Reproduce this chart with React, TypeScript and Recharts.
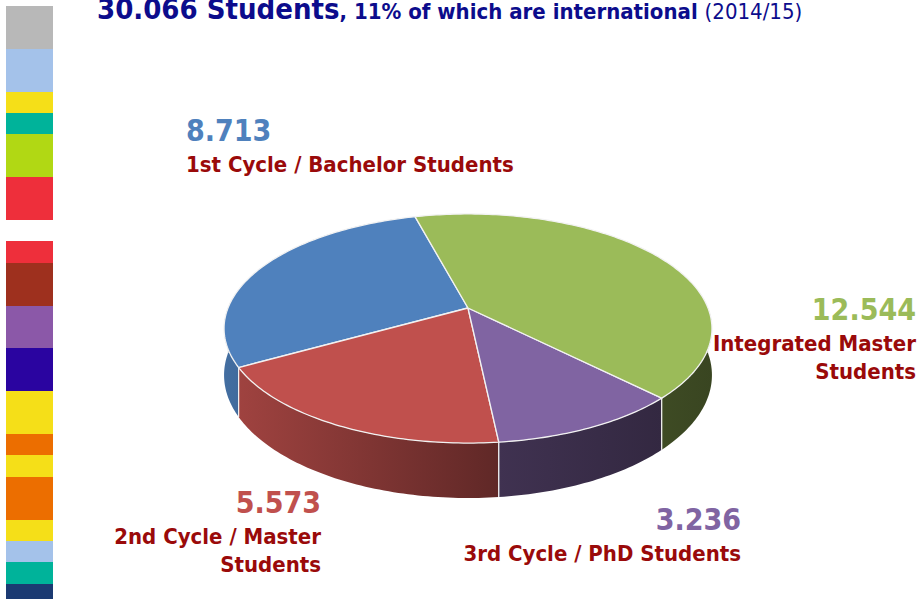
import React from 'react';
import { PieChart, Pie } from 'recharts';

// student numbers 2014/15, in the order the slices run counter-clockwise from the top
const categories = ['1st Cycle / Bachelor\u00a0Students', '2nd Cycle / Master\nStudents', '3rd Cycle / PhD Students', 'Integrated Master\nStudents'];
const students = [8713, 5573, 3236, 12544];
const sliceColors = ['#4F81BD', '#C0504D', '#8064A2', '#9BBB59'];
const internationalShare = '11%';
const yearLabel = '(2014/15)';

// decorative colour band on the left edge: [colour, height in units]
const bandColors = ['#B8B8B8', '#A4C2EA', '#F5DF18', '#00B39A', '#B1D814', '#EE2F3B', '#FFFFFF', '#EE2F3B', '#9E301E', '#8B58A8', '#2A04A0', '#F5DF18', '#EC6E00', '#F5DF18', '#EC6E00', '#F5DF18', '#A4C2EA', '#00B39A', '#1B3A72'];
const bandUnits = [2, 2, 1, 1, 2, 2, 1, 1, 2, 2, 2, 2, 1, 1, 2, 1, 1, 1, 1];

const FONT = '"DejaVu Sans Condensed", "DejaVu Sans", sans-serif';
const TILT = 0.179; // perspective: far side shrinks
const FLAT = 0.462; // vertical squash of the disc
const DEPTH = 0.188; // wall height relative to radius

const fmt = (n: number) => String(n).replace(/\B(?=(\d{3})+(?!\d))/g, '.');

const rows = categories.map((name, i) => ({ name, value: students[i], fill: sliceColors[i] }));
const total = students.reduce((a, b) => a + b, 0);

const project = (cx: number, cy: number, r: number, deg: number, drop = 0) => {
  const a = (deg * Math.PI) / 180;
  const u = Math.cos(a);
  const v = Math.sin(a);
  const w = 1 + TILT * v;
  return [cx + (r * u) / w, cy - (r * FLAT * v) / w + (r * DEPTH * drop) / w];
};

const arcPoints = (cx: number, cy: number, r: number, a0: number, a1: number, drop = 0) => {
  const pts: number[][] = [];
  const n = Math.max(2, Math.ceil(Math.abs(a1 - a0)));
  for (let i = 0; i <= n; i++) pts.push(project(cx, cy, r, a0 + ((a1 - a0) * i) / n, drop));
  return pts;
};

const shade = (hex: string, f: number) => {
  const c = [1, 3, 5].map((i) => Math.round(parseInt(hex.slice(i, i + 2), 16) * f));
  return `rgb(${c.join(',')})`;
};

const TopFace = (props: any) => {
  const { cx, cy, outerRadius, startAngle, endAngle } = props;
  const fill = props.fill || props.payload?.fill;
  const pts = arcPoints(cx, cy, outerRadius, startAngle, endAngle);
  const d = `M${cx},${cy} ` + pts.map((p) => `L${p[0].toFixed(2)},${p[1].toFixed(2)}`).join(' ') + ' Z';
  return <path d={d} fill={fill} stroke="#F2F2F2" strokeWidth={1.3} strokeLinejoin="round" />;
};

const SideWall = (props: any) => {
  const { cx, cy, outerRadius, startAngle, endAngle, index } = props;
  const fill = props.fill || props.payload?.fill;
  const lo = Math.min(startAngle, endAngle);
  const hi = Math.max(startAngle, endAngle);
  const parts: number[][] = [];
  for (let k = -1; k <= 1; k++) {
    const a = Math.max(lo, 180 + 360 * k);
    const b = Math.min(hi, 360 + 360 * k);
    if (b > a) parts.push([a, b]);
  }
  const id = `wall-${index}`;
  const x1 = cx - outerRadius * 1.02;
  const x2 = cx + outerRadius * 1.02;
  return (
    <g>
      <defs>
        <linearGradient id={id} gradientUnits="userSpaceOnUse" x1={x1} x2={x2} y1={0} y2={0}>
          <stop offset="0" stopColor={shade(fill, 0.85)} />
          <stop offset="0.56" stopColor={shade(fill, 0.5)} />
          <stop offset="1" stopColor={shade(fill, 0.37)} />
        </linearGradient>
      </defs>
      {parts.map(([a, b], i) => {
        const top = arcPoints(cx, cy, outerRadius, a, b);
        const bottom = arcPoints(cx, cy, outerRadius, b, a, 1);
        const d = 'M' + top.concat(bottom).map((p) => `${p[0].toFixed(2)},${p[1].toFixed(2)}`).join(' L') + ' Z';
        const e0 = top[0];
        const e1 = top[top.length - 1];
        const f0 = bottom[bottom.length - 1];
        const f1 = bottom[0];
        return (
          <g key={i}>
            <path d={d} fill={`url(#${id})`} stroke="none" />
            <line x1={e0[0]} y1={e0[1]} x2={f0[0]} y2={f0[1]} stroke="#F2F2F2" strokeWidth={1.2} />
            <line x1={e1[0]} y1={e1[1]} x2={f1[0]} y2={f1[1]} stroke="#F2F2F2" strokeWidth={1.2} />
          </g>
        );
      })}
    </g>
  );
};

const labelPos = [
  { x: 186, y: 141, anchor: 'start' },
  { x: 321, y: 513, anchor: 'end' },
  { x: 741, y: 530, anchor: 'end' },
  { x: 916, y: 320, anchor: 'end' },
];

const App: React.FC = () => {
  let acc = 0;
  return (
    <div style={{ position: 'absolute', left: 0, top: 0, width: 924, height: 599, background: '#FFFFFF', overflow: 'hidden' }}>
      {bandColors.map((c, i) => {
        const top = 6 + acc * 21.4;
        acc += bandUnits[i];
        return <div key={i} style={{ position: 'absolute', left: 6, top, width: 47, height: bandUnits[i] * 21.4 + 0.5, background: c }} />;
      })}
      <PieChart width={924} height={599} margin={{ top: 0, right: 0, bottom: 0, left: 0 }} style={{ position: 'absolute', left: 0, top: 0 }}>
        <Pie
          data={rows}
          dataKey="value"
          nameKey="name"
          cx={468}
          cy={308}
          outerRadius={240}
          startAngle={105}
          endAngle={465}
          stroke="none"
          label={false}
          labelLine={false}
          isAnimationActive={false}
          shape={SideWall}
          inactiveShape={SideWall}
          activeShape={SideWall}
        />
        <Pie
          data={rows}
          dataKey="value"
          nameKey="name"
          cx={468}
          cy={308}
          outerRadius={240}
          startAngle={105}
          endAngle={465}
          stroke="none"
          label={false}
          labelLine={false}
          isAnimationActive={false}
          shape={TopFace}
          inactiveShape={TopFace}
          activeShape={TopFace}
        />
      </PieChart>
      <svg width={924} height={599} style={{ position: 'absolute', left: 0, top: 0, pointerEvents: 'none' }}>
        <text x={97} y={19} fontFamily={FONT} fill="#0C0C8C">
          <tspan fontSize={29} fontWeight="bold">{`${fmt(total)} Students`}</tspan>
          <tspan fontSize={22} fontWeight="bold">{`, ${internationalShare} of which are international `}</tspan>
          <tspan fontSize={22}>{yearLabel}</tspan>
        </text>
        {rows.map((r, i) => {
          const p = labelPos[i];
          const lines = r.name.split('\n');
          return (
            <g key={r.name}>
              <text x={p.x} y={p.y} textAnchor={p.anchor as any} fontFamily={FONT} fontWeight="bold" fontSize={30} fill={sliceColors[i]}>
                {fmt(r.value)}
              </text>
              {lines.map((ln, j) => (
                <text key={j} x={p.x} y={p.y + 31 + j * 28} textAnchor={p.anchor as any} fontFamily={FONT} fontWeight="bold" fontSize={22} fill="#9A0A0A">
                  {ln}
                </text>
              ))}
            </g>
          );
        })}
      </svg>
    </div>
  );
};

export default App;
